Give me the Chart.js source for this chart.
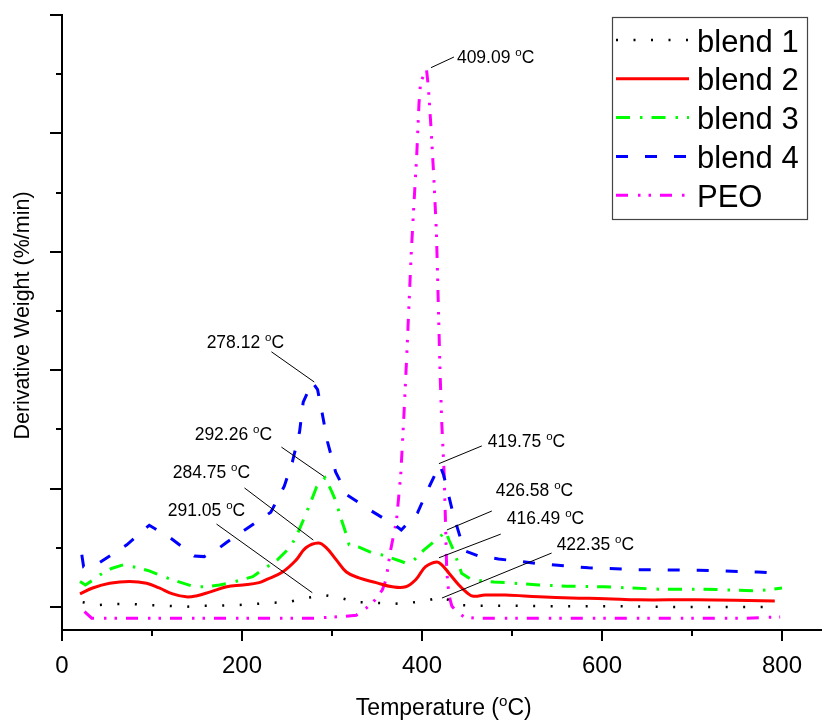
<!DOCTYPE html>
<html>
<head>
<meta charset="utf-8">
<script src="https://cdn.jsdelivr.net/npm/chart.js@4.4.1/dist/chart.umd.min.js"></script>
<style>
  html, body { margin: 0; padding: 0; background: #fff; }
  #wrap { width: 824px; height: 722px; }
</style>
</head>
<body>
<div id="wrap"><canvas id="c" width="824" height="722"></canvas></div>
<script>
// ---------- data ----------
const seriesNames = ['blend 1', 'blend 2', 'blend 3', 'blend 4', 'PEO'];

const blend1X = [23, 39, 56, 78, 96, 116, 135, 155, 174, 194, 214, 233, 251, 271, 291, 310, 328, 348, 367, 386, 404, 422, 432, 443, 462, 500, 560, 620, 680, 740, 792];
const blend1Y = [0.08, 0.03, 0.05, 0.05, 0.03, 0.02, 0.0, 0.02, 0.02, 0.03, 0.05, 0.07, 0.08, 0.15, 0.20, 0.15, 0.08, 0.07, 0.05, 0.07, 0.10, 0.17, 0.10, 0.03, 0.02, 0.02, 0.01, 0.01, 0.0, 0.0, 0.0];

const blend2X = [20, 34, 53, 75, 94, 108, 123, 138, 150, 164, 183, 201, 219, 227, 245, 260, 271, 284.75, 293, 305, 316, 330, 349, 367, 382, 393, 404, 416.49, 422, 430, 441, 450, 457, 470, 493, 530, 566, 604, 640, 704, 792];
const blend2Y = [0.22, 0.32, 0.40, 0.43, 0.40, 0.32, 0.22, 0.17, 0.19, 0.25, 0.34, 0.37, 0.41, 0.46, 0.59, 0.79, 1.00, 1.08, 1.01, 0.79, 0.59, 0.49, 0.41, 0.34, 0.34, 0.46, 0.68, 0.76, 0.71, 0.57, 0.37, 0.24, 0.18, 0.20, 0.20, 0.17, 0.15, 0.14, 0.12, 0.12, 0.10];

const blend3X = [20, 26, 33, 45, 55, 68, 82, 97, 110, 122, 137, 147, 160, 175, 188, 200, 212, 223, 239, 253, 260, 266, 271, 275, 283, 292.26, 300, 305, 308, 316, 319, 330, 345, 355, 375, 382, 391, 402, 413, 426.58, 430, 435, 444, 455, 480, 493, 530, 560, 602, 633, 663, 707, 735, 773, 800];
const blend3Y = [0.43, 0.37, 0.44, 0.57, 0.65, 0.71, 0.67, 0.61, 0.53, 0.46, 0.39, 0.34, 0.34, 0.37, 0.41, 0.46, 0.51, 0.63, 0.79, 1.00, 1.18, 1.39, 1.57, 1.72, 2.03, 2.18, 1.94, 1.76, 1.59, 1.22, 1.05, 1.01, 0.91, 0.88, 0.78, 0.74, 0.79, 0.96, 1.10, 1.27, 1.13, 0.96, 0.57, 0.46, 0.42, 0.41, 0.37, 0.35, 0.34, 0.32, 0.30, 0.30, 0.29, 0.27, 0.32];

const blend4X = [22, 24, 42, 72, 97, 120, 147, 158, 175, 182, 195, 208, 232, 247, 256, 264, 268, 278.12, 284, 289, 295, 304, 317, 344, 371, 377, 395, 408, 419.75, 424, 430, 435, 447, 463, 485, 530, 585, 640, 707, 773, 792];
const blend4Y = [0.88, 0.68, 0.75, 1.05, 1.38, 1.17, 0.86, 0.85, 1.00, 1.08, 1.22, 1.35, 1.60, 2.04, 2.45, 2.96, 3.46, 3.80, 3.67, 3.28, 2.79, 2.28, 1.89, 1.62, 1.37, 1.30, 1.59, 2.03, 2.40, 2.23, 1.86, 1.55, 0.95, 0.86, 0.81, 0.73, 0.66, 0.63, 0.62, 0.59, 0.57];

const peoX = [25, 33, 60, 100, 150, 200, 250, 280, 302, 315, 327, 338, 348, 356, 360, 365, 371.6, 376.4, 380, 383, 385.6, 388, 391, 394, 396.7, 398.5, 405, 407, 410, 413, 416, 418, 420, 422, 424.5, 426, 427.5, 430, 433, 438, 447, 460, 520, 600, 680, 760, 798];
const peoY = [-0.08, -0.19, -0.19, -0.19, -0.19, -0.19, -0.19, -0.19, -0.17, -0.16, -0.14, -0.02, 0.12, 0.29, 0.46, 0.95, 1.45, 2.23, 3.26, 4.22, 5.12, 5.96, 6.80, 7.58, 8.51, 8.87, 9.08, 8.80, 8.10, 7.30, 6.35, 5.20, 4.00, 3.10, 2.30, 1.50, 0.60, 0.20, 0.02, -0.08, -0.17, -0.19, -0.19, -0.19, -0.19, -0.19, -0.17];

// axis ticks
const xMajorTicks = [0, 200, 400, 600, 800];
const xMinorTicks = [100, 300, 500, 700];
const yMajorTicks = [0, 2, 4, 6, 8, 10];
const yMinorTicks = [1, 3, 5, 7, 9];

// peak annotations (labels) and their anchors in data units
const peakLabels = ['278.12', '292.26', '284.75', '291.05', '409.09', '419.75', '426.58', '416.49', '422.35'];
const peakPointX = [280.3, 291.4, 279.2, 278.1, 410.0, 418.8, 427.7, 418.8, 422.2];
const peakPointY = [3.80, 2.20, 1.13, 0.24, 9.11, 2.42, 1.30, 0.83, 0.15];
const leaderEndX = [232.7, 243.8, 202.8, 171.7, 435.5, 466.5, 477.6, 487.5, 544.0];
const leaderEndY = [4.31, 2.70, 2.01, 1.40, 9.29, 2.72, 1.62, 1.23, 0.91];
const labelLeftX = [160.7, 147.4, 123.0, 117.5, 438.8, 473.1, 482.0, 494.2, 549.6];
const labelMidY  = [4.48, 2.92, 2.28, 1.64, 9.29, 2.80, 1.98, 1.50, 1.06];

// ---------- chart ----------
const FONT = '"Liberation Sans", Arial, Helvetica, sans-serif';
const toPts = (xs, ys) => xs.map((x, i) => ({ x: x, y: ys[i] }));

const styles = [
  { color: '#000000', width: 2.5, dash: [2, 15.5], tension: 0 },
  { color: '#ff0000', width: 3, dash: [], tension: 0.4 },
  { color: '#00ff00', width: 3, dash: [14, 10, 2.5, 9], tension: 0 },
  { color: '#0000ff', width: 3, dash: [12, 17], tension: 0 },
  { color: '#ff00ff', width: 3, dash: [12, 10, 2.5, 8, 2.5, 9], tension: 0 }
];
const allX = [blend1X, blend2X, blend3X, blend4X, peoX];
const allY = [blend1Y, blend2Y, blend3Y, blend4Y, peoY];

const datasets = seriesNames.map((name, i) => {
  const s = styles[i];
  return {
    label: name,
    data: toPts(allX[i], allY[i]),
    borderColor: s.color,
    backgroundColor: s.color,
    borderWidth: s.width,
    borderDash: s.dash,
    pointRadius: 0,
    fill: false,
    tension: s.tension
  };
});

function supText(ctx, pre, post, x, y, size, align) {
  const sup = size * 0.66;
  ctx.font = size + 'px ' + FONT;
  const w1 = ctx.measureText(pre).width;
  const w3 = ctx.measureText(post).width;
  ctx.font = sup + 'px ' + FONT;
  const w2 = ctx.measureText('o').width;
  let sx = align === 'center' ? x - (w1 + w2 + w3) / 2 : x;
  ctx.textAlign = 'left';
  ctx.textBaseline = 'alphabetic';
  ctx.font = size + 'px ' + FONT;
  ctx.fillText(pre, sx, y);
  ctx.font = sup + 'px ' + FONT;
  ctx.fillText('o', sx + w1, y - size * 0.40);
  ctx.font = size + 'px ' + FONT;
  ctx.fillText(post, sx + w1 + w2, y);
}

const deco = {
  id: 'deco',
  afterDraw(chart) {
    const { ctx, chartArea: ca } = chart;
    const xs = chart.scales.x, ys = chart.scales.y;
    ctx.save();
    // ticks
    ctx.strokeStyle = '#000';
    ctx.lineWidth = 2;
    ctx.setLineDash([]);
    ctx.beginPath();
    xMajorTicks.forEach(v => { const p = Math.round(xs.getPixelForValue(v)); ctx.moveTo(p, ca.bottom); ctx.lineTo(p, ca.bottom + 11); });
    xMinorTicks.forEach(v => { const p = Math.round(xs.getPixelForValue(v)); ctx.moveTo(p, ca.bottom); ctx.lineTo(p, ca.bottom + 6); });
    yMajorTicks.forEach(v => { const p = Math.round(ys.getPixelForValue(v)); ctx.moveTo(ca.left, p); ctx.lineTo(ca.left - 12, p); });
    yMinorTicks.forEach(v => { const p = Math.round(ys.getPixelForValue(v)); ctx.moveTo(ca.left, p); ctx.lineTo(ca.left - 6, p); });
    ctx.stroke();

    // annotations
    ctx.lineWidth = 1;
    ctx.strokeStyle = '#000';
    ctx.fillStyle = '#000';
    peakLabels.forEach((t, i) => {
      ctx.beginPath();
      ctx.moveTo(xs.getPixelForValue(peakPointX[i]), ys.getPixelForValue(peakPointY[i]));
      ctx.lineTo(xs.getPixelForValue(leaderEndX[i]), ys.getPixelForValue(leaderEndY[i]));
      ctx.stroke();
      supText(ctx, t + ' ', 'C', xs.getPixelForValue(labelLeftX[i]), ys.getPixelForValue(labelMidY[i]) + 6, 17.5, 'left');
    });

    // axis titles
    ctx.fillStyle = '#000';
    supText(ctx, 'Temperature (', 'C)', (ca.left + ca.right) / 2 + 2, 715, 23, 'center');
    ctx.save();
    ctx.translate(29, (ca.top + ca.bottom) / 2 - 7);
    ctx.rotate(-Math.PI / 2);
    ctx.font = '21.5px ' + FONT;
    ctx.textAlign = 'center';
    ctx.textBaseline = 'alphabetic';
    ctx.fillText('Derivative Weight (%/min)', 0, 0);
    ctx.restore();

    // legend box
    const lx = 612, ly = 17, lw = 195, lh = 202;
    ctx.fillStyle = '#fff';
    ctx.fillRect(lx, ly, lw, lh);
    ctx.strokeStyle = '#444';
    ctx.lineWidth = 1.2;
    ctx.strokeRect(lx + 0.5, ly + 0.5, lw, lh);
    chart.data.datasets.forEach((ds, i) => {
      const ry = 40 + i * 38.8;
      ctx.beginPath();
      ctx.strokeStyle = ds.borderColor;
      ctx.lineWidth = ds.borderWidth;
      ctx.setLineDash(ds.borderDash || []);
      ctx.moveTo(616, ry);
      ctx.lineTo(689, ry);
      ctx.stroke();
      ctx.setLineDash([]);
      ctx.fillStyle = '#000';
      ctx.font = '31px ' + FONT;
      ctx.textAlign = 'left';
      ctx.textBaseline = 'alphabetic';
      ctx.fillText(ds.label, 697, ry + 11.5);
    });
    ctx.restore();
  }
};

new Chart(document.getElementById('c'), {
  type: 'line',
  data: { datasets: datasets },
  options: {
    responsive: false,
    animation: false,
    events: [],
    layout: { padding: { top: 15, right: 0, left: 0, bottom: 0 } },
    plugins: { legend: { display: false }, tooltip: { enabled: false }, title: { display: false } },
    scales: {
      x: {
        type: 'linear',
        min: 0,
        max: 844,
        afterFit: s => { s.height = 92; },
        grid: { display: false, drawTicks: false },
        border: { display: true, color: '#000', width: 2 },
        ticks: {
          stepSize: 200,
          includeBounds: false,
          autoSkip: false,
          maxRotation: 0,
          color: '#000',
          padding: 22,
          font: { family: FONT, size: 24 },
          callback: v => (xMajorTicks.includes(v) ? String(v) : '')
        }
      },
      y: {
        type: 'linear',
        min: -0.39,
        max: 10,
        afterFit: s => { s.width = 62; },
        grid: { display: false, drawTicks: false },
        border: { display: true, color: '#000', width: 2 },
        ticks: { display: false, stepSize: 1 }
      }
    }
  },
  plugins: [deco]
});
</script>
</body>
</html>
